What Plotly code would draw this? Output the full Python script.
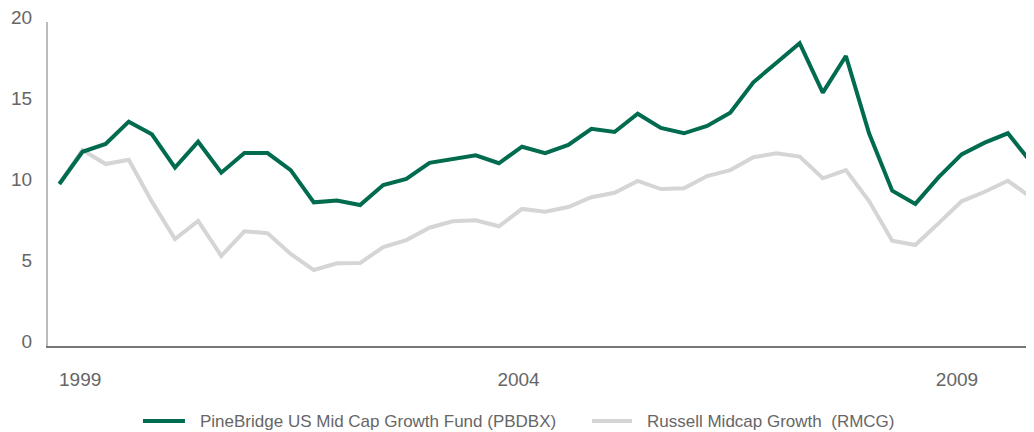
import plotly.graph_objects as go

periods = list(range(43))
pbdbx = [10.0, 11.99, 12.47, 13.85, 13.07, 11.01, 12.61, 10.70, 11.91, 11.91,
         10.86, 8.87, 8.98, 8.70, 9.94, 10.31, 11.31, 11.52, 11.77, 11.28,
         12.30, 11.91, 12.41, 13.41, 13.21, 14.34, 13.46, 13.13, 13.58, 14.40,
         16.28, 17.49, 18.69, 15.64, 17.90, 13.13, 9.59, 8.77, 10.41, 11.83,
         12.55, 13.13, 11.34]
rmcg = [10.0, 12.10, 11.23, 11.50, 8.91, 6.60, 7.72, 5.56, 7.08, 6.96,
        5.68, 4.69, 5.11, 5.12, 6.11, 6.54, 7.30, 7.70, 7.76, 7.39,
        8.46, 8.29, 8.58, 9.18, 9.46, 10.19, 9.69, 9.73, 10.49, 10.86,
        11.65, 11.90, 11.69, 10.35, 10.86, 8.95, 6.50, 6.23, 7.57, 8.93,
        9.52, 10.20, 9.18]
x_tick_pos = [0.9, 19.85, 38.8]
x_tick_text = ["1999", "2004", "2009"]
y_ticks = [0, 5, 10, 15, 20]
series_names = ["PineBridge US Mid Cap Growth Fund (PBDBX)", "Russell Midcap Growth  (RMCG)"]
series_colors = ["#006b4e", "#d5d5d5"]

fig = go.Figure()
fig.add_trace(go.Scatter(x=periods, y=rmcg, mode="lines", name=series_names[1],
                         line=dict(color=series_colors[1], width=4), showlegend=False))
fig.add_trace(go.Scatter(x=periods, y=pbdbx, mode="lines", name=series_names[0],
                         line=dict(color=series_colors[0], width=4), showlegend=False))

# custom legend below the plot (paper coordinates)
legend_y = -0.2315
legend_items = [(0.0963, 0.1389, 0.1521), (0.5517, 0.5923, 0.6055)]
for (sx0, sx1, tx), name, col in zip(legend_items, series_names, series_colors):
    fig.add_shape(type="line", xref="paper", yref="paper", x0=sx0, x1=sx1,
                  y0=legend_y, y1=legend_y, line=dict(color=col, width=4))
    fig.add_annotation(xref="paper", yref="paper", x=tx, y=legend_y, text=name,
                       showarrow=False, xanchor="left", yanchor="middle",
                       font=dict(family="Liberation Sans, Arial, sans-serif", size=17, color="#666666"))

# page shows the figure with an 8px body margin, so the figure is 8px smaller
fig.update_layout(
    width=1026, height=424,
    margin=dict(l=40, r=0, t=14, b=86, autoexpand=False),
    paper_bgcolor="white", plot_bgcolor="white",
    font=dict(family="Liberation Sans, Arial, sans-serif", color="#666666", size=19),
    showlegend=False,
    xaxis=dict(range=[-0.49, 42.13], tickmode="array", tickvals=x_tick_pos,
               ticktext=x_tick_text, showgrid=False, zeroline=False,
               showline=True, linecolor="#777777", linewidth=1.5,
               ticks="", ticklabelstandoff=15, fixedrange=True, automargin=False),
    yaxis=dict(range=[0, 20], tickmode="array", tickvals=y_ticks,
               showgrid=False, zeroline=False, showline=True,
               linecolor="#bbbbbb", linewidth=2, ticks="",
               ticklabelstandoff=10, ticklabelshift=-5, ticklabeloverflow="allow",
               fixedrange=True, automargin=False),
)

fig.write_html("out.html")
